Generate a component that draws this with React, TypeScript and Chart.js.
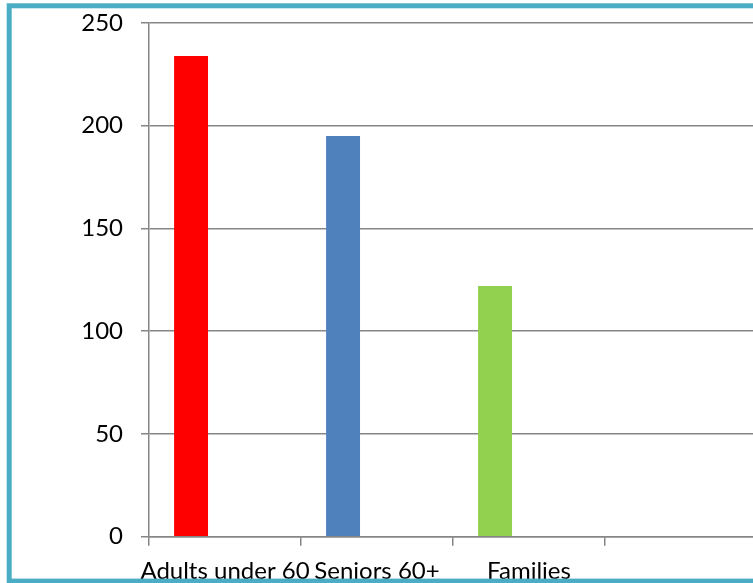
import React, { useEffect, useRef } from "react";
import { Chart, registerables } from "chart.js";

Chart.register(...registerables);

const categories = ["Adults under 60", "Seniors 60+", "Families", ""];
const seriesA = [234, 195, 122, null];
const seriesB = [null, null, null, null];
const seriesC = [null, null, null, null];
const barColors = ["#FF0000", "#4F81BD", "#92D050", "#FF0000"];
const yTicks = [0, 50, 100, 150, 200, 250];

const FONT = "Lato, 'Open Sans', sans-serif";

const framePlugin = {
  id: "frame",
  afterDraw(chart: any) {
    const ctx = chart.ctx;
    ctx.save();
    ctx.strokeStyle = "#4BACC6";
    ctx.lineWidth = 5;
    ctx.strokeRect(9.2, 5.8, 800, 575.3);
    ctx.restore();
  },
};

export default function App() {
  const ref = useRef<HTMLCanvasElement | null>(null);
  useEffect(() => {
    document.body.style.margin = "0";
    document.body.style.overflow = "hidden";
    const canvas = ref.current!;
    const chart = new Chart(canvas, {
      type: "bar",
      data: {
        labels: categories,
        datasets: [
          { data: seriesA, backgroundColor: barColors },
          { data: seriesB, backgroundColor: "#C0504D" },
          { data: seriesC, backgroundColor: "#9BBB59" },
        ],
      },
      options: {
        animation: false,
        responsive: false,
        devicePixelRatio: 1,
        datasets: { bar: { categoryPercentage: 0.67, barPercentage: 1 } },
        layout: { padding: { left: 0, top: 23, right: 8, bottom: 0 } },
        plugins: { legend: { display: false }, tooltip: { enabled: false } },
        scales: {
          x: {
            afterFit: (s: any) => {
              s.height = 46.3;
              s.paddingLeft = 0;
              s.paddingRight = 0;
            },
            grid: {
              drawOnChartArea: false,
              drawTicks: true,
              tickLength: 9,
              color: "#868686",
              lineWidth: 1.5,
              offset: true,
            },
            border: { color: "#868686", width: 1.5 },
            ticks: {
              color: "#000",
              font: { family: FONT, size: 24 },
              padding: 11,
              maxRotation: 0,
              autoSkip: false,
            },
          },
          y: {
            min: 0,
            max: 250,
            afterBuildTicks: (s: any) => {
              s.ticks = yTicks.map((v) => ({ value: v }));
            },
            afterFit: (s: any) => {
              s.width = 149;
              s.paddingTop = 0;
              s.paddingBottom = 0;
            },
            grid: { color: "#868686", lineWidth: 1.5, tickLength: 8 },
            border: { color: "#868686", width: 1.5 },
            ticks: {
              color: "#000",
              font: { family: FONT, size: 24 },
              padding: 18,
            },
          },
        },
      },
      plugins: [framePlugin],
    });
    return () => chart.destroy();
  }, []);
  return (
    <div
      style={{
        position: "fixed",
        left: 0,
        top: 0,
        width: 753,
        height: 583,
        overflow: "hidden",
        background: "#fff",
      }}
    >
      <canvas ref={ref} width={765} height={583} style={{ display: "block" }} />
    </div>
  );
}
